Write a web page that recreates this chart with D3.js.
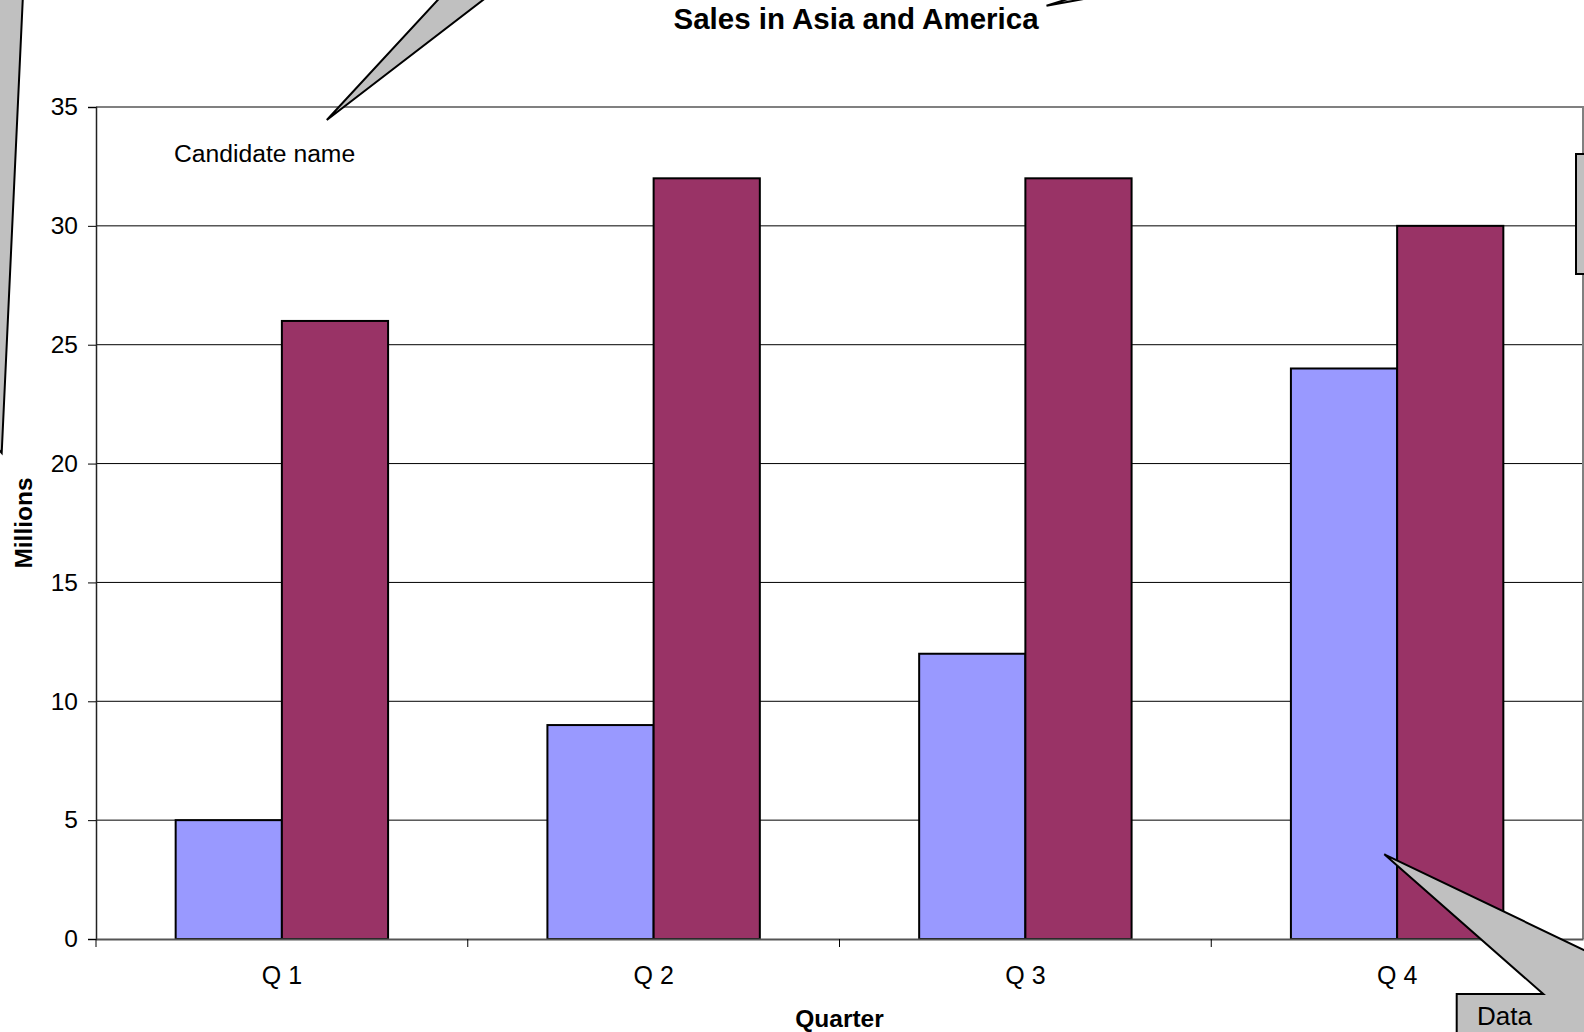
<!DOCTYPE html>
<html>
<head>
<meta charset="utf-8">
<script src="https://cdn.jsdelivr.net/npm/d3@7"></script>
<style>
  html, body { margin: 0; padding: 0; background: #fff; }
  svg { display: block; font-family: "Liberation Sans", Arial, sans-serif; }
</style>
</head>
<body>
<svg id="chart" width="1584" height="1032"></svg>
<script>
// ---- data ----
const categories = ["Q 1", "Q 2", "Q 3", "Q 4"];
const seriesNames = ["Asia", "America"];
const asiaValues = [5, 9, 12, 24];
const americaValues = [26, 32, 32, 30];
const yTicks = [0, 5, 10, 15, 20, 25, 30, 35];
const seriesColors = ["#9999FF", "#993366"];

const title = "Sales in Asia and America";
const xTitle = "Quarter";
const yTitle = "Millions";
const noteText = "Candidate name";
const calloutText = "Data";

// ---- layout ----
const svg = d3.select("#chart");
const plot = { left: 96, right: 1583, top: 107, bottom: 939 };

const x0 = d3.scaleBand().domain(categories).range([plot.left, plot.right]).paddingInner(0).paddingOuter(0);
const x1 = d3.scaleBand().domain(seriesNames).range([0, x0.bandwidth()]).paddingInner(0).paddingOuter(0.75);
const y = d3.scaleLinear().domain([0, 35]).range([plot.bottom, plot.top]);

const table = categories.map((c, i) => ({ cat: c, values: [asiaValues[i], americaValues[i]] }));

// gridlines
svg.append("g").selectAll("line")
  .data(yTicks.filter(t => t > 0 && t < 35))
  .join("line")
  .attr("x1", plot.left).attr("x2", plot.right)
  .attr("y1", d => y(d)).attr("y2", d => y(d))
  .attr("stroke", "#000").attr("stroke-width", 1);

// plot border (top, right)
svg.append("path")
  .attr("d", `M${plot.left},${y(35)}H${plot.right}V${plot.bottom}`)
  .attr("fill", "none").attr("stroke", "#808080").attr("stroke-width", 2);

// bars
const groups = svg.append("g").selectAll("g")
  .data(table).join("g")
  .attr("transform", d => `translate(${x0(d.cat)},0)`);
groups.selectAll("rect")
  .data(d => d.values.map((v, j) => ({ s: seriesNames[j], v, j })))
  .join("rect")
  .attr("x", d => x1(d.s))
  .attr("width", x1.bandwidth())
  .attr("y", d => y(d.v))
  .attr("height", d => y(0) - y(d.v))
  .attr("fill", d => seriesColors[d.j])
  .attr("stroke", "#000").attr("stroke-width", 2);

// y axis
const yAxis = svg.append("g")
  .attr("transform", `translate(${plot.left},0)`)
  .call(d3.axisLeft(y).tickValues(yTicks).tickSize(8).tickPadding(10).tickFormat(d3.format("d")));
yAxis.select(".domain").attr("stroke", "#222").attr("stroke-width", 1.5);
yAxis.selectAll(".tick line").attr("stroke", "#000").attr("stroke-width", 1);
yAxis.selectAll(".tick text").attr("font-size", 24.5).attr("fill", "#000")
  .attr("font-family", "'Liberation Sans', Arial, sans-serif");

// x axis
const xAxis = svg.append("g")
  .attr("transform", `translate(0,${plot.bottom})`)
  .call(d3.axisBottom(x0).tickSize(0).tickPadding(0));
xAxis.select(".domain").attr("stroke", "#555").attr("stroke-width", 2);
xAxis.selectAll(".tick text").attr("font-size", 25).attr("fill", "#000")
  .attr("font-family", "'Liberation Sans', Arial, sans-serif")
  .attr("y", 45).attr("dy", null);
// category boundary ticks
const boundaries = categories.map(c => x0(c));
svg.append("g").selectAll("line")
  .data(boundaries)
  .join("line")
  .attr("x1", d => d).attr("x2", d => d)
  .attr("y1", plot.bottom).attr("y2", plot.bottom + 8)
  .attr("stroke", "#000").attr("stroke-width", 1);

// titles
svg.append("text").text(title)
  .attr("x", 856).attr("y", 28.5)
  .attr("text-anchor", "middle").attr("font-weight", "bold").attr("font-size", 29.5);
svg.append("text").text(xTitle)
  .attr("x", (plot.left + plot.right) / 2).attr("y", 1027)
  .attr("text-anchor", "middle").attr("font-weight", "bold").attr("font-size", 24.5);
svg.append("text").text(yTitle)
  .attr("transform", `translate(32,${(plot.top + plot.bottom) / 2}) rotate(-90)`)
  .attr("text-anchor", "middle").attr("font-weight", "bold").attr("font-size", 24.5);

svg.append("text").text(noteText)
  .attr("x", 174).attr("y", 162).attr("font-size", 24.7);

// ---- callouts ----
const calloutFill = "#C0C0C0";
const line = d3.line();

// left tall callout
svg.append("path")
  .attr("d", line([[-60, -10], [23.2, -10], [1.7, 453], [-60, 380]]) + "Z")
  .attr("fill", calloutFill).attr("stroke", "#000").attr("stroke-width", 2);

// top-left wedge pointing to "Candidate name"
svg.append("path")
  .attr("d", line([[447, -10], [326.8, 120], [496, -10]]) + "Z")
  .attr("fill", calloutFill).attr("stroke", "#000").attr("stroke-width", 2);

// small wedge by the title
svg.append("path")
  .attr("d", line([[1046.5, 5.8], [1100, -4], [1096, -10]]) + "Z")
  .attr("fill", calloutFill).attr("stroke", "#000").attr("stroke-width", 2);

// right-side box
svg.append("rect")
  .attr("x", 1576).attr("y", 154).attr("width", 30).attr("height", 120)
  .attr("fill", calloutFill).attr("stroke", "#000").attr("stroke-width", 2);

// bottom-right callout
svg.append("path")
  .attr("d", line([[1384.3, 854.3], [1600, 957.7], [1600, 1050], [1456.7, 1050], [1456.7, 994], [1543.3, 994]]) + "Z")
  .attr("fill", calloutFill).attr("stroke", "#000").attr("stroke-width", 2);
svg.append("text").text(calloutText)
  .attr("x", 1477).attr("y", 1025).attr("font-size", 26);
</script>
</body>
</html>
